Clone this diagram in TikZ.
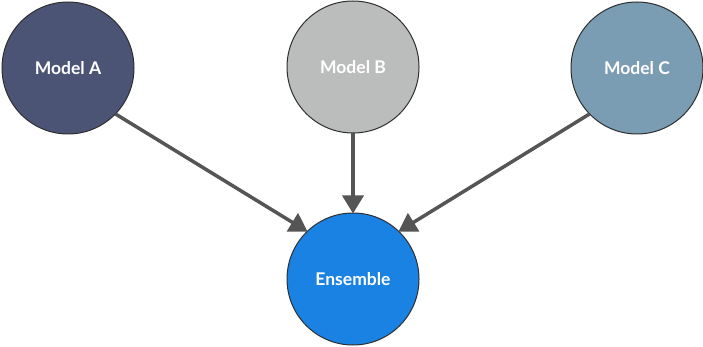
\documentclass[tikz,border=0pt]{standalone}
\usepackage{fontspec}
\setmainfont{Lato}
\usetikzlibrary{arrows.meta}
\definecolor{modelA}{HTML}{4B5475}
\definecolor{modelB}{HTML}{BBBDBC}
\definecolor{modelC}{HTML}{7A9DB3}
\definecolor{ensemblec}{HTML}{1A82E2}
\definecolor{linkc}{HTML}{555555}
\definecolor{rimc}{HTML}{2E2E2E}
\tikzset{
  model/.style={circle, draw=rimc, line width=1pt, minimum size=132pt, inner sep=0pt,
    text=white, font=\fontsize{17.5}{20}\selectfont\bfseries},
  link/.style={draw=linkc, line width=3.5pt, -{Triangle[width=21pt,length=18pt]}, shorten >=-1pt}
}
\begin{document}
\begin{tikzpicture}[x=1pt,y=-1pt]
  \useasboundingbox (0,0) rectangle (703,347);
  \node[model, fill=modelA] (a) at (68,68) {Model A};
  \node[model, fill=modelB] (b) at (353,67) {Model B};
  \node[model, fill=modelC] (c) at (637,68) {Model C};
  \node[model, fill=ensemblec] (e) at (353,279) {Ensemble};
  \draw[link] (a.-44) -- (e.134);
  \draw[link] (b.south) -- (e.north);
  \draw[link] (c.-136) -- (e.46);
\end{tikzpicture}
\end{document}
